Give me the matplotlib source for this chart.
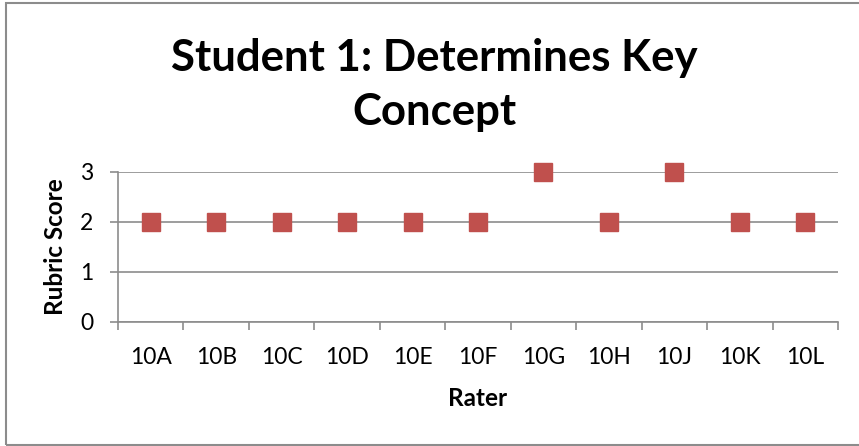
import matplotlib
matplotlib.use("Agg")
import matplotlib.pyplot as plt
from matplotlib.patches import Rectangle

raters = ["10A", "10B", "10C", "10D", "10E", "10F", "10G", "10H", "10J", "10K", "10L"]
scores = [2, 2, 2, 2, 2, 2, 3, 2, 3, 2, 2]
yticks = [0, 1, 2, 3]

plt.rcParams['font.family'] = ['Lato', 'DejaVu Sans']

W, H = 859, 446
fig = plt.figure(figsize=(W/100, H/100), dpi=100)
fig.patches.append(Rectangle((6/W, 1.2/H), 1.0, (443.3-1.2)/H, transform=fig.transFigure,
                             fill=False, edgecolor='#8c8c8c', linewidth=1.5))
ax = fig.add_axes([118/W, (H-322)/H, 720/W, 150/H])

x = list(range(len(raters)))
ax.plot(x, scores, linestyle='none', marker='s', markersize=13.5, color='#C0504D', clip_on=False, zorder=3)

ax.set_xlim(-0.5, len(raters) - 0.5)
ax.set_ylim(0, 3)
ax.set_yticks(yticks)
ax.set_yticklabels([str(v) for v in yticks], fontsize=16.5)
ax.set_xticks([i - 0.5 for i in range(len(raters) + 1)])
ax.set_xticklabels([])
ax.set_xticks(x, minor=True)
ax.set_xticklabels(raters, minor=True, fontsize=16.5)
ax.tick_params(axis='x', which='minor', length=0, pad=18)
ax.tick_params(axis='x', which='major', length=6, width=1.2, color='#8c8c8c', direction='out')
ax.tick_params(axis='y', length=6, width=1.2, color='#8c8c8c', direction='out', pad=12)
ax.grid(axis='y', color='#8c8c8c', linewidth=1.2)
ax.set_axisbelow(True)
for s in ['top', 'right']:
    ax.spines[s].set_visible(False)
for s in ['left', 'bottom']:
    ax.spines[s].set_color('#8c8c8c')
    ax.spines[s].set_linewidth(1.2)

ax.set_xlabel("Rater", fontsize=17.5, fontweight='bold', labelpad=14)
ax.set_ylabel("Rubric Score", fontsize=17.5, fontweight='bold', labelpad=9)
fig.text(434/W, 1 - 71/H, "Student 1: Determines Key", ha='center', va='baseline',
         fontsize=31.5, fontweight='bold')
fig.text(434/W, 1 - 125/H, "Concept", ha='center', va='baseline',
         fontsize=31.5, fontweight='bold')

fig.savefig("out.png", dpi=100)
